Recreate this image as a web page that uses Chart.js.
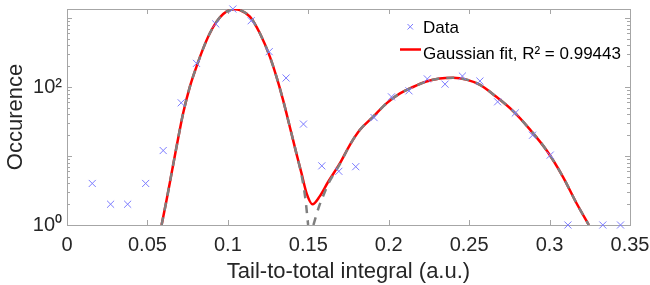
<!DOCTYPE html>
<html>
<head>
<meta charset="utf-8">
<script src="https://cdn.jsdelivr.net/npm/chart.js@4/dist/chart.umd.min.js"></script>
<style>
  body { margin: 0; background: #fff; }
  #wrap { width: 650px; height: 285px; }
</style>
</head>
<body>
<div id="wrap"><canvas id="myChart" width="650" height="285"></canvas></div>
<script>
"use strict";

// Histogram points (bin centre, counts)
const dataX = [0.0157, 0.0271, 0.0377, 0.0489, 0.0598, 0.071, 0.0805, 0.0925, 0.1031, 0.1145,
  0.1257, 0.1362, 0.147, 0.1584, 0.169, 0.1795, 0.1909, 0.2017, 0.2126, 0.224,
  0.235, 0.2458, 0.2567, 0.2677, 0.2787, 0.2894, 0.3004, 0.3114, 0.3331, 0.3441];
const dataY = [4, 2, 2, 4, 12, 59, 220, 819, 1350, 913,
  325, 135, 29, 7.2, 6, 7, 36, 72, 88, 131,
  110, 144, 122, 61, 42, 20, 10.3, 1, 1, 1];

// Gaussian fit (sum of both peaks)
const fitX = [0.0588, 0.0619, 0.065, 0.0681, 0.0722, 0.0764, 0.0805, 0.0847, 0.0888, 0.093,
  0.0971, 0.1012, 0.1043, 0.1075, 0.1137, 0.1199, 0.1261, 0.1302, 0.1343, 0.1385,
  0.1426, 0.1458, 0.1489, 0.1526, 0.1571, 0.1623, 0.1696, 0.1758, 0.182, 0.1903,
  0.1986, 0.2068, 0.2151, 0.2234, 0.2317, 0.24, 0.2483, 0.2565, 0.2669, 0.2772,
  0.2876, 0.298, 0.3083, 0.3166, 0.3244];
const fitY = [1, 2.3, 5.6, 13.6, 41.6, 101, 197, 363, 600, 885,
  1143, 1306, 1340, 1306, 1046, 600, 275, 141, 65, 26.6,
  10.9, 5.6, 2.9, 2.0, 2.6, 4.2, 7.8, 14.4, 23.8, 37,
  58, 80, 100, 120, 133, 136, 128, 108, 72, 45,
  24.5, 12.2, 5.0, 2.1, 1];

// individual peaks (dashed grey)
const peak1X = [0.0588, 0.0619, 0.065, 0.0681, 0.0722, 0.0764, 0.0805, 0.0847, 0.0888, 0.093,
  0.0971, 0.1012, 0.1043, 0.1075, 0.1137, 0.1199, 0.1261, 0.1302, 0.1343, 0.1385,
  0.1426, 0.1458, 0.1482, 0.1499];
const peak1Y = [1, 2.3, 5.6, 13.6, 41.6, 101, 197, 363, 600, 885,
  1143, 1306, 1340, 1306, 1046, 600, 275, 141, 65, 26.6,
  10.9, 5.3, 2.4, 1];
const peak2X = [0.1532, 0.1565, 0.16, 0.1623, 0.1696, 0.1758, 0.182, 0.1903,
  0.1986, 0.2068, 0.2151, 0.2234, 0.2317, 0.24, 0.2483, 0.2565, 0.2669, 0.2772,
  0.2876, 0.298, 0.3083, 0.3166, 0.3244];
const peak2Y = [1, 1.8, 2.9, 3.9, 7.6, 14.4, 23.8, 37,
  58, 80, 100, 120, 133, 136, 128, 108, 72, 45,
  24.5, 12.2, 5.0, 2.1, 1];

const xTicks = [0, 0.05, 0.1, 0.15, 0.2, 0.25, 0.3, 0.35];
const legendLabels = ["Data", "Gaussian fit, R\u00B2 = 0.99443"];

const FONT = "'Liberation Sans', Arial, sans-serif";
const MARKER = "#7c7cff";
const pts = (xs, ys) => xs.map((x, i) => ({ x: x, y: ys[i] }));

// no extra padding from tick labels, so the plot box sits where it should
function noPad(s) {
  s.paddingLeft = 0; s.paddingRight = 0; s.paddingTop = 0; s.paddingBottom = 0;
}

// box with inward ticks on all four sides, MATLAB style
const boxTicks = {
  id: "boxTicks",
  beforeDatasetsDraw(chart) {
    const { ctx, chartArea: a, scales } = chart;
    ctx.save();
    ctx.strokeStyle = "#a6a6a6";
    ctx.lineWidth = 1;
    ctx.beginPath();
    xTicks.forEach(v => {
      const px = Math.round(scales.x.getPixelForValue(v)) + 0.5;
      ctx.moveTo(px, a.bottom); ctx.lineTo(px, a.bottom - 5);
      ctx.moveTo(px, a.top); ctx.lineTo(px, a.top + 5);
    });
    for (let d = 1; d <= 1000; d *= 10) {
      for (let m = 1; m < 10; m++) {
        const v = d * m;
        if (v > scales.y.max) break;
        const py = Math.round(scales.y.getPixelForValue(v)) + 0.5;
        const len = m === 1 ? 5 : 3;
        ctx.moveTo(a.left, py); ctx.lineTo(a.left + len, py);
        ctx.moveTo(a.right, py); ctx.lineTo(a.right - len, py);
      }
    }
    ctx.stroke();
    ctx.strokeRect(Math.round(a.left) + 0.5, Math.round(a.top) + 0.5,
      Math.round(a.width), Math.round(a.height));
    ctx.restore();
  }
};

// legend in the upper right, inside the axes
const insideLegend = {
  id: "insideLegend",
  afterDraw(chart) {
    const ctx = chart.ctx;
    ctx.save();
    ctx.font = "17px " + FONT;
    ctx.fillStyle = "#000";
    ctx.textBaseline = "alphabetic";
    // data marker
    ctx.strokeStyle = MARKER;
    ctx.lineWidth = 1;
    ctx.beginPath();
    ctx.moveTo(407.5, 24); ctx.lineTo(413, 29.5);
    ctx.moveTo(413, 24); ctx.lineTo(407.5, 29.5);
    ctx.stroke();
    ctx.fillText(legendLabels[0], 423, 33);
    // fit line
    ctx.strokeStyle = "#ff0000";
    ctx.lineWidth = 2.5;
    ctx.beginPath();
    ctx.moveTo(400, 49.5); ctx.lineTo(421, 49.5);
    ctx.stroke();
    ctx.fillText(legendLabels[1], 423, 59);
    ctx.restore();
  }
};

const config = {
  type: "scatter",
  data: {
    datasets: [
      {
        label: legendLabels[0],
        data: pts(dataX, dataY),
        pointStyle: "crossRot",
        pointRadius: 5,
        pointBorderWidth: 1,
        borderColor: MARKER,
        backgroundColor: MARKER,
        clip: false
      },
      {
        label: "peak 1",
        data: pts(peak1X, peak1Y),
        showLine: true,
        pointRadius: 0,
        borderColor: "#7f7f7f",
        borderWidth: 2.5,
        borderDash: [8, 7],
        cubicInterpolationMode: "monotone"
      },
      {
        label: "peak 2",
        data: pts(peak2X, peak2Y),
        showLine: true,
        pointRadius: 0,
        borderColor: "#7f7f7f",
        borderWidth: 2.5,
        borderDash: [8, 7],
        cubicInterpolationMode: "monotone"
      },
      {
        label: legendLabels[1],
        data: pts(fitX, fitY),
        showLine: true,
        pointRadius: 0,
        borderColor: "#ff0000",
        borderWidth: 2.5,
        cubicInterpolationMode: "monotone"
      }
    ]
  },
  options: {
    responsive: false,
    devicePixelRatio: 1,
    animation: false,
    layout: { padding: { top: 9, right: 20, left: 0, bottom: 0 } },
    plugins: {
      legend: { display: false },
      tooltip: { enabled: false }
    },
    scales: {
      x: {
        type: "linear",
        min: 0,
        max: 0.35,
        grid: { display: false, drawTicks: false },
        border: { display: false },
        afterBuildTicks: s => { s.ticks = xTicks.map(v => ({ value: v })); },
        ticks: {
          font: { size: 20, family: FONT },
          color: "#262626",
          padding: 8,
          callback: v => String(Number(v.toFixed(2)))
        },
        title: {
          display: true,
          text: "Tail-to-total integral (a.u.)",
          font: { size: 22, family: FONT },
          color: "#262626",
          padding: { top: 0, bottom: 0 }
        },
        afterFit: s => { s.height = 60; noPad(s); }
      },
      y: {
        type: "logarithmic",
        min: 1,
        max: 1350,
        grid: { display: false, drawTicks: false },
        border: { display: false },
        afterBuildTicks: s => { s.ticks = [{ value: 1 }, { value: 100 }]; },
        ticks: {
          autoSkip: false,
          font: { size: 20, family: FONT },
          color: "#262626",
          padding: 5,
          callback: v => (v === 1 ? "10\u2070" : v === 100 ? "10\u00B2" : "")
        },
        title: {
          display: true,
          text: "Occurence",
          font: { size: 22, family: FONT },
          color: "#262626",
          padding: { top: 3, bottom: 0 }
        },
        afterFit: s => { s.width = 67; noPad(s); }
      }
    }
  },
  plugins: [boxTicks, insideLegend]
};

const myChart = new Chart(document.getElementById("myChart"), config);
</script>
</body>
</html>
